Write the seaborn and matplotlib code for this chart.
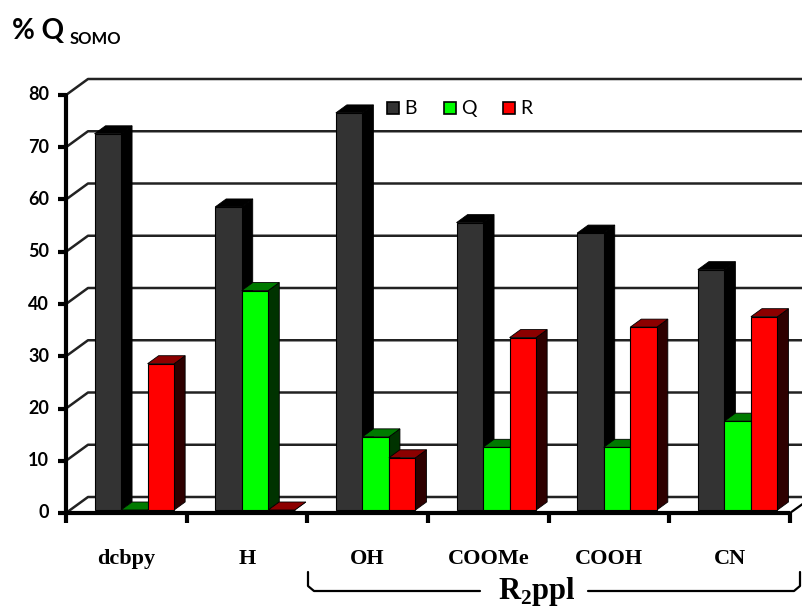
import matplotlib
matplotlib.use("Agg")
import matplotlib.pyplot as plt
import matplotlib.transforms as mtransforms
from matplotlib.patches import Polygon
import seaborn as sns
import pandas as pd

# ---- data -------------------------------------------------------------
ligands = ["dcbpy", "H", "OH", "COOMe", "COOH", "CN"]
series = ["B", "Q", "R"]
b_vals = [72, 58, 76, 55, 53, 46]
q_vals = [0, 42, 14, 12, 12, 17]
r_vals = [28, 0, 10, 33, 35, 37]
y_ticks = [0, 10, 20, 30, 40, 50, 60, 70, 80]

front_colors = {"B": "#333333", "Q": "#00ff00", "R": "#ff0000"}
top_colors = {"B": "#000000", "Q": "#007a00", "R": "#8c0000"}
side_colors = {"B": "#000000", "Q": "#003300", "R": "#2e0000"}

df = pd.DataFrame({
    "ligand": ligands * 3,
    "series": [s for s in series for _ in ligands],
    "value": b_vals + q_vals + r_vals,
})

# ---- figure / axes ----------------------------------------------------
W, H, DPI = 803, 608, 100
sns.set_theme(style="white")
plt.rcParams["font.family"] = ["Lato", "DejaVu Sans"]

fig = plt.figure(figsize=(W / DPI, H / DPI), dpi=DPI)
x0px, x1px, y0px, y1px = 66, 790, 513, 95
ax = fig.add_axes([x0px / W, (H - y0px) / H, (x1px - x0px) / W, (y0px - y1px) / H])
ax.set_xlim(-0.5, len(ligands) - 0.5)
ax.set_ylim(0, 80)
ax.axis("off")

ux = (len(ligands)) / (x1px - x0px)     # data units per pixel, x
uy = 80 / (y0px - y1px)                  # data units per pixel, y

# back wall / side wall grid
wall_dx, wall_dy = 22, 16
x_back_end = -0.5 + (803 - x0px) * ux
for v in y_ticks:
    ax.plot([-0.5, -0.5 + wall_dx * ux, x_back_end],
            [v, v + wall_dy * uy, v + wall_dy * uy],
            color="#222222", lw=1.8, clip_on=False, zorder=1,
            solid_capstyle="butt")

# ---- bars -------------------------------------------------------------
sns.barplot(data=df, x="ligand", y="value", hue="series", order=ligands,
            hue_order=series, palette=front_colors, width=0.66,
            edgecolor="black", linewidth=0.8, legend=False, ax=ax,
            saturation=1, zorder=3)

# bars sit a little behind the front plane
bar_shift = mtransforms.ScaledTranslation(8 / DPI, 3 / DPI, fig.dpi_scale_trans)
bar_trans = ax.transData + bar_shift
depth_dx, depth_dy = 11 * ux, 8 * uy

bars = list(ax.patches)
n = len(ligands)
for k, p in enumerate(bars):
    s = series[k // n]
    xa, w, h = p.get_x(), p.get_width(), p.get_height()
    xb = xa + w
    p.set_transform(bar_trans)
    z = 3 + (k % n) * 3 + k // n
    p.set_zorder(z + 0.5)
    side = Polygon([(xb, 0), (xb + depth_dx, depth_dy),
                    (xb + depth_dx, h + depth_dy), (xb, h)],
                   closed=True, facecolor=side_colors[s], edgecolor="black",
                   lw=0.6, transform=bar_trans, zorder=z)
    top = Polygon([(xa, h), (xa + depth_dx, h + depth_dy),
                   (xb + depth_dx, h + depth_dy), (xb, h)],
                  closed=True, facecolor=top_colors[s], edgecolor="black",
                  lw=0.6, transform=bar_trans, zorder=z)
    ax.add_patch(side)
    ax.add_patch(top)

# ---- axes lines -------------------------------------------------------
ax.plot([-0.5, -0.5], [0, 80], color="black", lw=3, clip_on=False, zorder=50)
ax.plot([-0.5, len(ligands) - 0.5], [0, 0], color="black", lw=3,
        clip_on=False, zorder=50, solid_capstyle="butt")
ax.plot([len(ligands) - 0.5, len(ligands) - 0.5 + 14 * ux],
        [0, 10 * uy], color="black", lw=1.6, clip_on=False, zorder=50)

for v in y_ticks:
    ax.plot([-0.5 - 8 * ux, -0.5], [v, v], color="black", lw=3,
            clip_on=False, zorder=50, solid_capstyle="butt")
    ax.text(-0.5 - 17 * ux, v, str(v), ha="right", va="center",
            fontsize=13, fontweight="bold", color="black")

for i in range(len(ligands) + 1):
    ax.plot([i - 0.5, i - 0.5], [0, -10 * uy], color="black", lw=3,
            clip_on=False, zorder=50, solid_capstyle="butt")

for i, lab in enumerate(ligands):
    ax.text(i, -46 * uy, lab, ha="center", va="center", fontsize=16,
            fontweight="bold", family="Liberation Serif", color="black")

# ---- legend -----------------------------------------------------------
leg_x = [387, 444, 503]
for s, lx in zip(series, leg_x):
    fig.patches.append(plt.Rectangle((lx / W, (H - 114) / H), 12 / W, 12 / H,
                                     facecolor=front_colors[s],
                                     edgecolor="black", lw=1.2,
                                     transform=fig.transFigure, figure=fig))
    fig.text((lx + 17) / W, (H - 108) / H, s, ha="left", va="center",
             fontsize=14, color="black")

# ---- title ------------------------------------------------------------
fig.text(12 / W, (H - 31) / H, "% Q", ha="left", va="center",
         fontsize=20, fontweight="bold", color="black")
fig.text(70 / W, (H - 39) / H, "SOMO", ha="left", va="center",
         fontsize=12, fontweight="bold", color="black")

# ---- R2ppl bracket ----------------------------------------------------
bx0, bx1, by_top, by = 308, 800, 572, 591
fig.add_artist(plt.Line2D([bx0 / W, bx0 / W, (bx0 + 6) / W, 480 / W],
                          [(H - by_top) / H, (H - by + 5) / H, (H - by) / H,
                           (H - by) / H], color="black", lw=1.6))
fig.add_artist(plt.Line2D([588 / W, (bx1 - 6) / W, bx1 / W, bx1 / W],
                          [(H - by) / H, (H - by) / H, (H - by + 5) / H,
                           (H - by_top) / H], color="black", lw=1.6))
fig.text(537 / W, (H - 591) / H, r"R$_\mathregular{2}$ppl", ha="center",
         va="center", fontsize=22, fontweight="bold",
         family="Liberation Serif", color="black")

fig.savefig("out.png", dpi=DPI)
